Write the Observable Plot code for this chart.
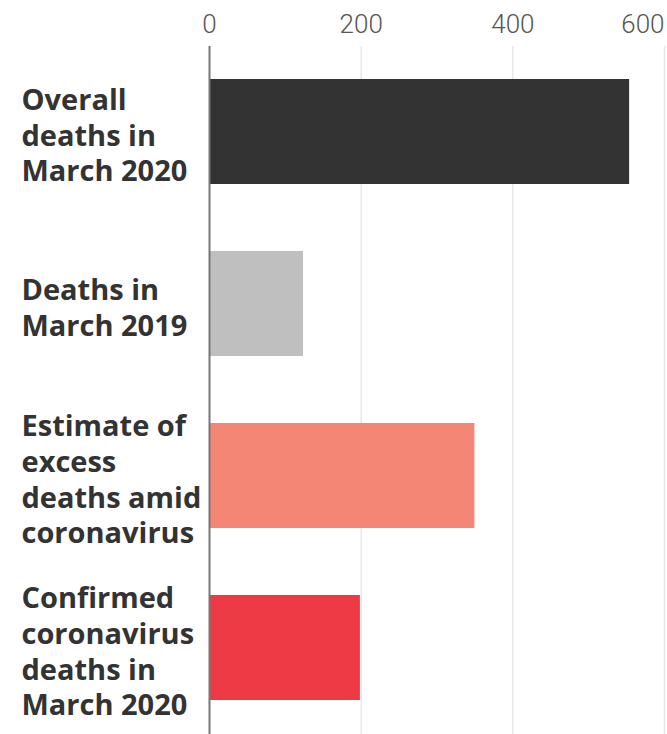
<!DOCTYPE html>
<html>
<head>
<meta charset="utf-8">
<script src="https://cdn.jsdelivr.net/npm/d3@7"></script>
<script src="https://cdn.jsdelivr.net/npm/@observablehq/plot@0.6"></script>
<style>
  html, body { margin: 0; padding: 0; background: #fff; }
  #chart svg { display: block; }
</style>
</head>
<body>
<div id="chart"></div>
<script>
const categories = [
  "Overall\ndeaths in\nMarch 2020",
  "Deaths in\nMarch 2019",
  "Estimate of\nexcess\ndeaths amid\ncoronavirus",
  "Confirmed\ncoronavirus\ndeaths in\nMarch 2020"
];
const values = [554, 124, 350, 199];
const barColors = ["#333333", "#bfbfbf", "#f38674", "#ee3a44"];
const tickValues = [0, 200, 400, 600];

const data = categories.map((c, i) => ({category: c, value: values[i], color: barColors[i]}));

const chart = Plot.plot({
  width: 667,
  height: 734,
  marginLeft: 209,
  marginRight: 3,
  marginTop: 46,
  marginBottom: 0,
  style: {fontFamily: "Roboto, sans-serif", background: "#fff"},
  x: {domain: [0, 600], axis: null},
  y: {domain: categories, axis: null, range: [45, 733], paddingInner: 0.391, paddingOuter: 0.19},
  color: {type: "identity"},
  marks: [
    Plot.ruleX(tickValues.slice(1), {stroke: "#e8e8e8", strokeWidth: 1.5}),
    Plot.barX(data, {y: "category", x: "value", fill: "color", insetLeft: 1}),
    Plot.ruleX([0], {stroke: "#777", strokeWidth: 2}),
    Plot.axisX(tickValues.slice(0, 3), {anchor: "top", label: null, tickSize: 0, tickPadding: 14, fontSize: 26, fontWeight: 300, fill: "#555"}),
    Plot.axisX(tickValues.slice(3), {anchor: "top", label: null, tickSize: 0, tickPadding: 14, fontSize: 26, fontWeight: 300, fill: "#555", textAnchor: "end", dx: 0}),
    Plot.text(data, {
      y: "category",
      text: "category",
      frameAnchor: "left",
      dx: -188,
      dy: 2,
      textAnchor: "start",
      lineAnchor: "middle",
      lineHeight: 1.24,
      fontSize: 29,
      fontWeight: "bold",
      fontFamily: "'Open Sans', sans-serif",
      fill: "#333"
    })
  ]
});
document.getElementById("chart").appendChild(chart);
</script>
</body>
</html>
